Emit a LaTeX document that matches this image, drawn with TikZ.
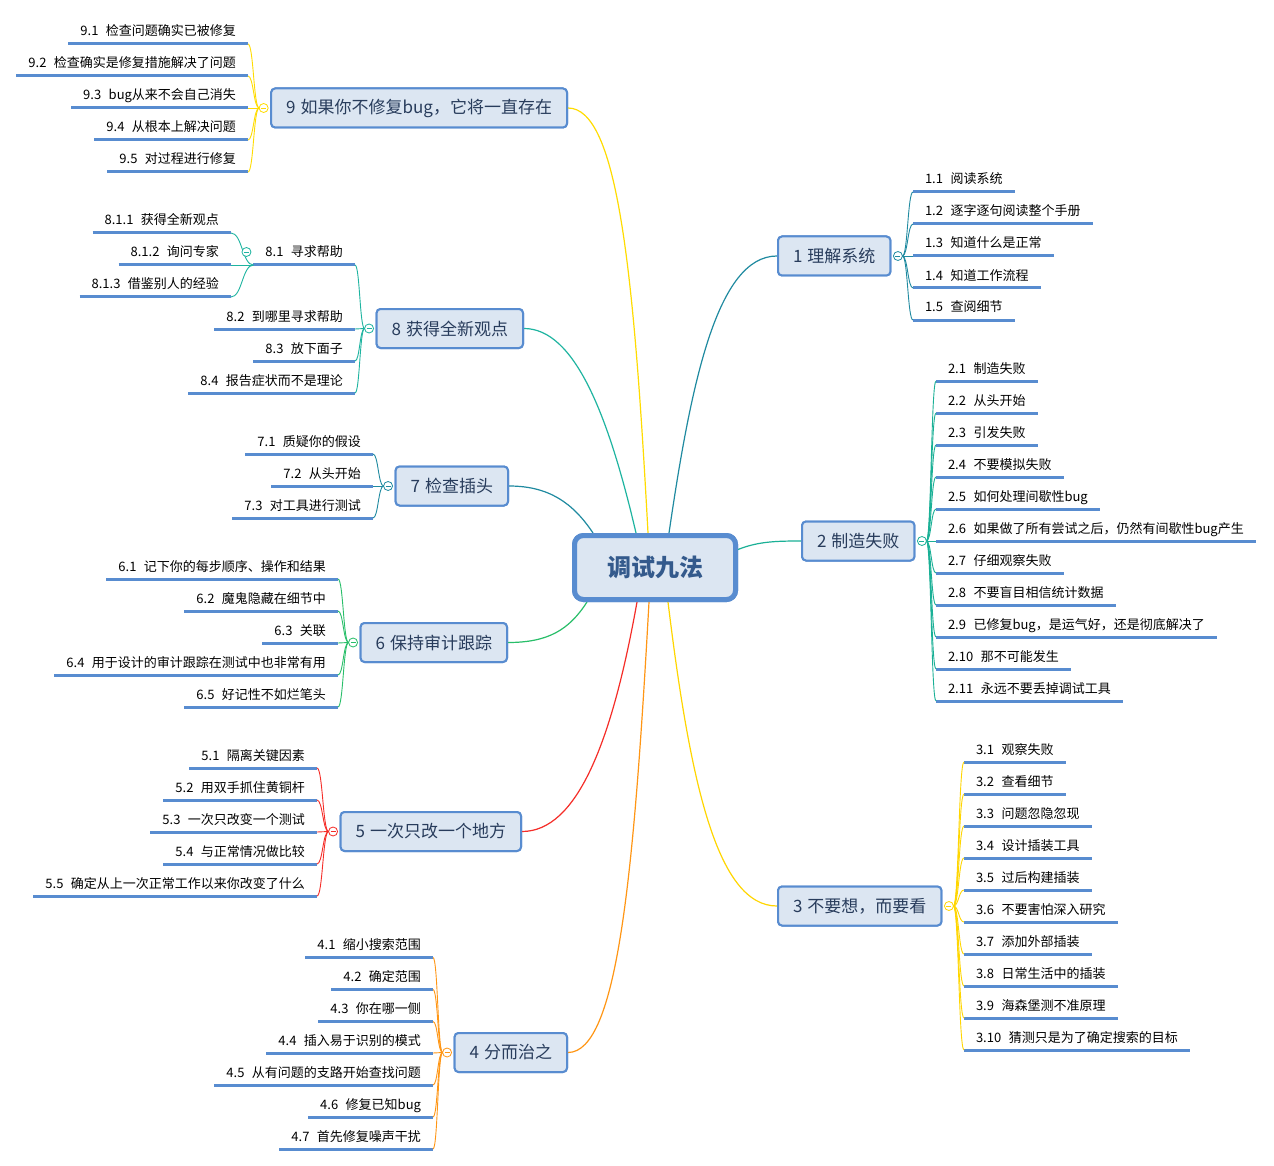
\documentclass[tikz,border=0pt]{standalone}
\usepackage{fontspec}
\setmainfont{Noto Sans CJK SC}
\usetikzlibrary{calc}
\definecolor{nodefill}{RGB}{220,230,242}
\definecolor{nodeborder}{RGB}{88,140,208}
\definecolor{ublue}{RGB}{88,140,208}
\definecolor{roottext}{RGB}{52,90,140}
\definecolor{toptext}{RGB}{40,60,92}
\definecolor{colA}{RGB}{31,138,160}
\definecolor{colB}{RGB}{26,176,150}
\definecolor{colC}{RGB}{255,214,0}
\definecolor{colD}{RGB}{255,150,20}
\definecolor{colE}{RGB}{245,45,40}
\definecolor{colF}{RGB}{40,190,105}
\definecolor{colG}{RGB}{31,138,160}
\definecolor{colH}{RGB}{30,180,160}
\definecolor{colI}{RGB}{255,220,0}
\newcommand\xg{\hspace{7.5pt}}
\newcommand\tg{\hspace{5pt}}
\newcommand\leafL[4]{\node[leaf, anchor=south east] (#1) at (#2,#3) {#4}; \draw[uline] (#1.south west) -- (#1.south east);}
\newcommand\leafR[4]{\node[leaf, anchor=south west] (#1) at (#2,#3) {#4}; \draw[uline] (#1.south west) -- (#1.south east);}
\newcommand\brc[3]{\draw[subc, #1] let \p1=(#2), \p2=(#3) in (\p1) .. controls ({(\x1+\x2)/2},\y1) and ({(\x1+\x2)/2},\y2) .. (\p2);}
\tikzset{
 leaf/.style={inner xsep=12pt, inner ysep=0pt, text height=10pt, text depth=8pt, outer sep=0pt, font=\fontsize{13}{15}\selectfont, text=black},
 uline/.style={draw=ublue, line width=3pt},
 topic/.style={draw=nodeborder, line width=2pt, fill=nodefill, rounded corners=4pt, minimum height=39pt, inner xsep=15pt, inner ysep=0pt, outer sep=1pt, font=\fontsize{17}{20}\selectfont, text=toptext},
 rootbox/.style={draw=nodeborder, line width=5pt, fill=nodefill, rounded corners=9pt, minimum width=161pt, minimum height=64pt, inner sep=0pt, outer sep=2.5pt, font=\fontsize{24}{28}\selectfont\bfseries, text=roottext},
 coll/.style={circle, draw=#1, fill=white, minimum size=9pt, inner sep=0pt, outer sep=0pt, line width=0.8pt, path picture={\draw[#1, line width=0.8pt] ($(path picture bounding box.center)+(-2.5,0)$) -- ($(path picture bounding box.center)+(2.5,0)$);}},
 mainc/.style={line width=1.2pt},
 subc/.style={line width=0.9pt},
}
\begin{document}
\begin{tikzpicture}[x=1pt,y=-1pt]
\useasboundingbox (0,0) rectangle (1274,1166);
\fill[white] (0,0) rectangle (1274,1166);

% topic nodes (placed first for anchors)
\node[rootbox] (root) at (655,567.5) {调试九法};
\node[topic, anchor=east] (n9) at (568,108) {9\tg 如果你不修复bug，它将一直存在};
\node[topic, anchor=east] (n8) at (524,328.5) {8\tg 获得全新观点};
\node[topic, anchor=east] (n7) at (509,486) {7\tg 检查插头};
\node[topic, anchor=east] (n6) at (508,642.5) {6\tg 保持审计跟踪};
\node[topic, anchor=east] (n5) at (522,831.5) {5\tg 一次只改一个地方};
\node[topic, anchor=east] (n4) at (568,1052.5) {4\tg 分而治之};
\node[topic, anchor=west] (n1) at (777,256) {1\tg 理解系统};
\node[topic, anchor=west] (n2) at (801,541) {2\tg 制造失败};
\node[topic, anchor=west] (n3) at (777,906) {3\tg 不要想，而要看};

% main connectors
\draw[mainc, colA] ($(root.north)+(14,0)$) .. controls +(22,-150) and +(-60,0) .. (n1.west);
\draw[mainc, colI] ($(root.north)+(-7,0)$) .. controls +(-14,-260) and +(50,0) .. (n9.east);
\draw[mainc, colH] ($(root.north)+(-19,0)$) .. controls +(-28,-120) and +(50,0) .. (n8.east);
\draw[mainc, colG] ($(root.north)+(-62,0)$) .. controls +(-20,-30) and +(40,0) .. (n7.east);
\draw[mainc, colF] ($(root.south)+(-68,0)$) .. controls +(-18,28) and +(40,0) .. (n6.east);
\draw[mainc, colE] ($(root.south)+(-18,0)$) .. controls +(-25,140) and +(55,0) .. (n5.east);
\draw[mainc, colD] ($(root.south)+(-6,0)$) .. controls +(-15,270) and +(50,0) .. (n4.east);
\draw[mainc, colC] ($(root.south)+(13,0)$) .. controls +(22,180) and +(-60,0) .. (n3.west);
\draw[mainc, colB] ($(root.east)+(0,-18)$) .. controls +(20,-8) and +(-25,0) .. (n2.west);

% redraw nodes on top of connector ends
\node[rootbox] at (root.center) {调试九法};
\node[topic, anchor=east] at (568,108) {9\tg 如果你不修复bug，它将一直存在};
\node[topic, anchor=east] at (524,328.5) {8\tg 获得全新观点};
\node[topic, anchor=east] at (509,486) {7\tg 检查插头};
\node[topic, anchor=east] at (508,642.5) {6\tg 保持审计跟踪};
\node[topic, anchor=east] at (522,831.5) {5\tg 一次只改一个地方};
\node[topic, anchor=east] at (568,1052.5) {4\tg 分而治之};
\node[topic, anchor=west] at (777,256) {1\tg 理解系统};
\node[topic, anchor=west] at (801,541) {2\tg 制造失败};
\node[topic, anchor=west] at (777,906) {3\tg 不要想，而要看};

% collapse circles coordinates
\coordinate (k9) at ($(n9.west)+(-6.5,0)$);
\coordinate (k8) at ($(n8.west)+(-6.5,0)$);
\coordinate (k7) at ($(n7.west)+(-6.5,0)$);
\coordinate (k6) at ($(n6.west)+(-6.5,0)$);
\coordinate (k5) at ($(n5.west)+(-6.5,0)$);
\coordinate (k4) at ($(n4.west)+(-6.5,0)$);
\coordinate (k1) at ($(n1.east)+(6.5,0)$);
\coordinate (k2) at ($(n2.east)+(6.5,0)$);
\coordinate (k3) at ($(n3.east)+(6.5,0)$);
\coordinate (j9) at ($(k9)+(-4.5,0)$);
\coordinate (j8) at ($(k8)+(-4.5,0)$);
\coordinate (j7) at ($(k7)+(-4.5,0)$);
\coordinate (j6) at ($(k6)+(-4.5,0)$);
\coordinate (j5) at ($(k5)+(-4.5,0)$);
\coordinate (j4) at ($(k4)+(-4.5,0)$);
\coordinate (j1) at ($(k1)+(4.5,0)$);
\coordinate (j2) at ($(k2)+(4.5,0)$);
\coordinate (j3) at ($(k3)+(4.5,0)$);

% ---- branch 9
\leafL{a91}{248}{44}{9.1\xg 检查问题确实已被修复}
\leafL{a92}{248}{76}{9.2\xg 检查确实是修复措施解决了问题}
\leafL{a93}{248}{108}{9.3\xg bug从来不会自己消失}
\leafL{a94}{248}{140}{9.4\xg 从根本上解决问题}
\leafL{a95}{248}{172}{9.5\xg 对过程进行修复}
\foreach \lfn in {a91,a92,a93,a94,a95}{\brc{colI}{j9}{\lfn.south east}}

% ---- branch 8
\leafL{a81}{355}{265}{8.1\xg 寻求帮助}
\leafL{a82}{355}{329}{8.2\xg 到哪里寻求帮助}
\leafL{a83}{355}{361}{8.3\xg 放下面子}
\leafL{a84}{355}{393}{8.4\xg 报告症状而不是理论}
\foreach \lfn in {a81,a82,a83,a84}{\brc{colH}{j8}{\lfn.south east}}
\leafL{a811}{231}{233}{8.1.1\xg 获得全新观点}
\leafL{a812}{231}{265}{8.1.2\xg 询问专家}
\leafL{a813}{231}{297}{8.1.3\xg 借鉴别人的经验}
\foreach \lfn in {a811,a812,a813}{\brc{colH}{a81.south west}{\lfn.south east}}
\node[coll=colH] (c81) at ($(a81.south west)+(-7,-13)$) {};

% ---- branch 7
\leafL{a71}{373}{454}{7.1\xg 质疑你的假设}
\leafL{a72}{373}{486}{7.2\xg 从头开始}
\leafL{a73}{373}{518}{7.3\xg 对工具进行测试}
\foreach \lfn in {a71,a72,a73}{\brc{colG}{j7}{\lfn.south east}}

% ---- branch 6
\leafL{a61}{338}{579}{6.1\xg 记下你的每步顺序、操作和结果}
\leafL{a62}{338}{611}{6.2\xg 魔鬼隐藏在细节中}
\leafL{a63}{338}{643}{6.3\xg 关联}
\leafL{a64}{338}{675}{6.4\xg 用于设计的审计跟踪在测试中也非常有用}
\leafL{a65}{338}{707}{6.5\xg 好记性不如烂笔头}
\foreach \lfn in {a61,a62,a63,a64,a65}{\brc{colF}{j6}{\lfn.south east}}

% ---- branch 5
\leafL{a51}{317}{768}{5.1\xg 隔离关键因素}
\leafL{a52}{317}{800}{5.2\xg 用双手抓住黄铜杆}
\leafL{a53}{317}{832}{5.3\xg 一次只改变一个测试}
\leafL{a54}{317}{864}{5.4\xg 与正常情况做比较}
\leafL{a55}{317}{896}{5.5\xg 确定从上一次正常工作以来你改变了什么}
\foreach \lfn in {a51,a52,a53,a54,a55}{\brc{colE}{j5}{\lfn.south east}}

% ---- branch 4
\leafL{a41}{433}{957.5}{4.1\xg 缩小搜索范围}
\leafL{a42}{433}{989.5}{4.2\xg 确定范围}
\leafL{a43}{433}{1021.5}{4.3\xg 你在哪一侧}
\leafL{a44}{433}{1053}{4.4\xg 插入易于识别的模式}
\leafL{a45}{433}{1085}{4.5\xg 从有问题的支路开始查找问题}
\leafL{a46}{433}{1117}{4.6\xg 修复已知bug}
\leafL{a47}{433}{1149}{4.7\xg 首先修复噪声干扰}
\foreach \lfn in {a41,a42,a43,a44,a45,a46,a47}{\brc{colD}{j4}{\lfn.south east}}

% ---- branch 1
\leafR{b11}{913}{192}{1.1\xg 阅读系统}
\leafR{b12}{913}{224}{1.2\xg 逐字逐句阅读整个手册}
\leafR{b13}{913}{256}{1.3\xg 知道什么是正常}
\leafR{b14}{913}{288}{1.4\xg 知道工作流程}
\leafR{b15}{913}{320}{1.5\xg 查阅细节}
\foreach \lfn in {b11,b12,b13,b14,b15}{\brc{colA}{j1}{\lfn.south west}}

% ---- branch 2
\leafR{b21}{936}{381}{2.1\xg 制造失败}
\leafR{b22}{936}{413}{2.2\xg 从头开始}
\leafR{b23}{936}{445}{2.3\xg 引发失败}
\leafR{b24}{936}{477}{2.4\xg 不要模拟失败}
\leafR{b25}{936}{509}{2.5\xg 如何处理间歇性bug}
\leafR{b26}{936}{541}{2.6\xg 如果做了所有尝试之后，仍然有间歇性bug产生}
\leafR{b27}{936}{573}{2.7\xg 仔细观察失败}
\leafR{b28}{936}{605}{2.8\xg 不要盲目相信统计数据}
\leafR{b29}{936}{637}{2.9\xg 已修复bug，是运气好，还是彻底解决了}
\leafR{b210}{936}{669}{2.10\xg 那不可能发生}
\leafR{b211}{936}{701}{2.11\xg 永远不要丢掉调试工具}
\foreach \lfn in {b21,b22,b23,b24,b25,b26,b27,b28,b29,b210,b211}{\brc{colB}{j2}{\lfn.south west}}

% ---- branch 3
\leafR{b31}{964}{762}{3.1\xg 观察失败}
\leafR{b32}{964}{794}{3.2\xg 查看细节}
\leafR{b33}{964}{826}{3.3\xg 问题忽隐忽现}
\leafR{b34}{964}{858}{3.4\xg 设计插装工具}
\leafR{b35}{964}{890}{3.5\xg 过后构建插装}
\leafR{b36}{964}{922}{3.6\xg 不要害怕深入研究}
\leafR{b37}{964}{954}{3.7\xg 添加外部插装}
\leafR{b38}{964}{986}{3.8\xg 日常生活中的插装}
\leafR{b39}{964}{1018}{3.9\xg 海森堡测不准原理}
\leafR{b310}{964}{1050}{3.10\xg 猜测只是为了确定搜索的目标}
\foreach \lfn in {b31,b32,b33,b34,b35,b36,b37,b38,b39,b310}{\brc{colC}{j3}{\lfn.south west}}

% circles
\node[coll=colI] (c9) at (k9) {};
\node[coll=colH] (c8) at (k8) {};
\node[coll=colG] (c7) at (k7) {};
\node[coll=colF] (c6) at (k6) {};
\node[coll=colE] (c5) at (k5) {};
\node[coll=colD] (c4) at (k4) {};
\node[coll=colA] (c1) at (k1) {};
\node[coll=colB] (c2) at (k2) {};
\node[coll=colC] (c3) at (k3) {};
\end{tikzpicture}
\end{document}
